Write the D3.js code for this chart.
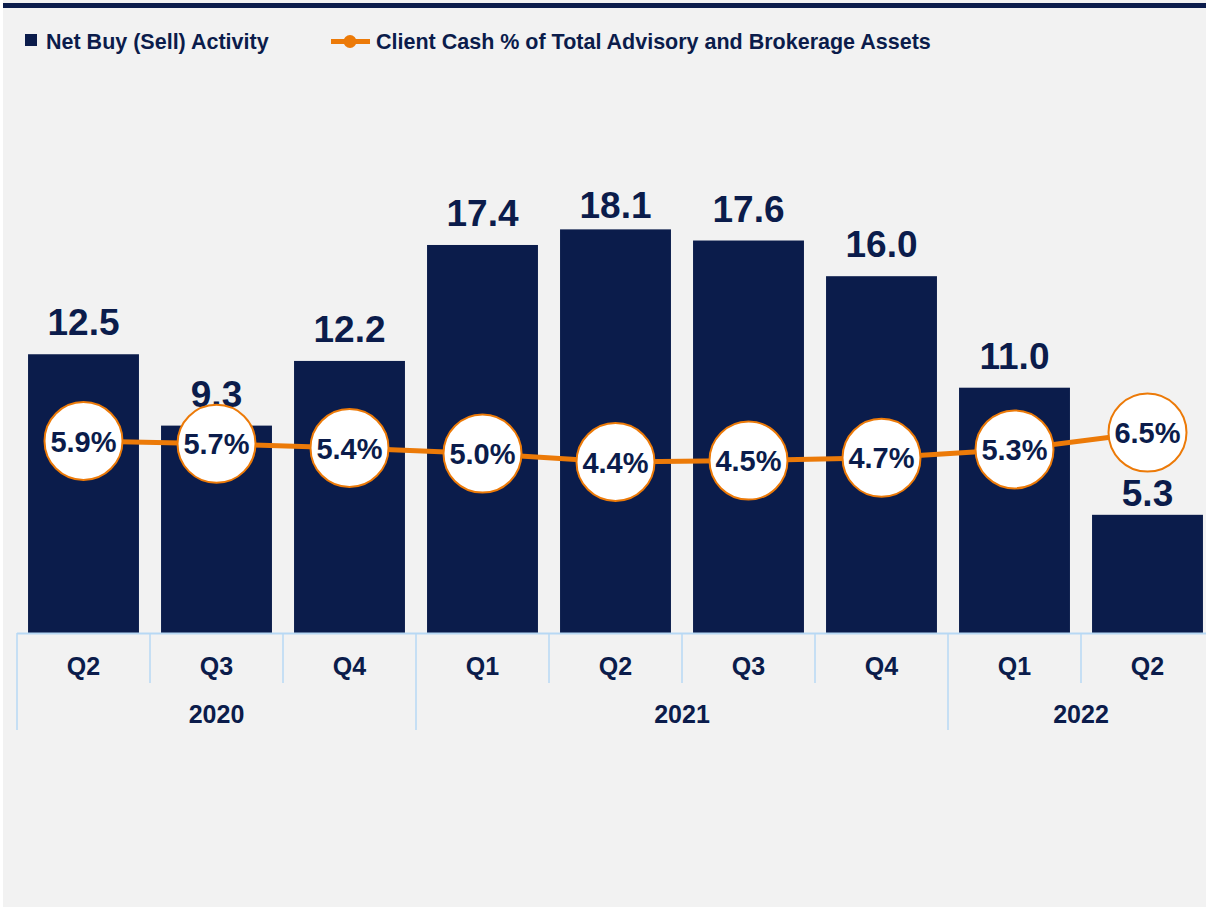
<!DOCTYPE html>
<html><head><meta charset="utf-8">
<script src="https://cdn.jsdelivr.net/npm/d3@7"></script>
<style>
html,body{margin:0;padding:0;background:#fff;}
text{font-family:"Liberation Sans",Arial,sans-serif;font-weight:bold;}
</style></head>
<body><svg id="c" width="1206" height="909"></svg>
<script>
const quarters = ["Q2","Q3","Q4","Q1","Q2","Q3","Q4","Q1","Q2"];
const years = ["2020","2020","2020","2021","2021","2021","2021","2022","2022"];
const netBuy = [12.5, 9.3, 12.2, 17.4, 18.1, 17.6, 16.0, 11.0, 5.3];
const cashPct = [5.9, 5.7, 5.4, 5.0, 4.4, 4.5, 4.7, 5.3, 6.5];
const legendLabels = ["Net Buy (Sell) Activity", "Client Cash % of Total Advisory and Brokerage Assets"];

const NAVY = "#0b1c4b", ORANGE = "#ec7a08", AXIS = "#b7d8f4";
const svg = d3.select("#c");
svg.append("rect").attr("x",3).attr("y",0).attr("width",1203).attr("height",907).attr("fill","#f2f2f2");
svg.append("rect").attr("x",3).attr("y",3).attr("width",1203).attr("height",5).attr("fill",NAVY);

const idx = d3.range(netBuy.length);
const x = d3.scaleBand().domain(idx).range([17, 17 + 133*netBuy.length]).paddingInner(0.166).paddingOuter(0.083);
const y = d3.scaleLinear().domain([0, 20]).range([633, 187]);
const y2 = d3.scaleLinear().domain([4, 7]).range([467.6, 425.6]);
const step = x.step();
const cx = i => x(i) + x.bandwidth()/2;

// bars
svg.selectAll("rect.bar").data(netBuy).join("rect").attr("class","bar")
  .attr("x",(d,i)=>x(i)).attr("width",x.bandwidth())
  .attr("y",d=>y(d)).attr("height",d=>y(0)-y(d)).attr("fill",NAVY);

// bar labels
const R = 39;
svg.selectAll("text.bl").data(netBuy).join("text").attr("class","bl")
  .attr("x",(d,i)=>cx(i)).attr("text-anchor","middle").attr("font-size",37).attr("fill",NAVY)
  .attr("y",(d,i)=>{
    let b = Math.max(y(d) - 19, 218);
    if (y(d) > y2(cashPct[i])) b = y2(cashPct[i]) + R + 8 + 26;
    return b;
  }).text(d=>d.toFixed(1));

// axis
const axisG = svg.append("g");
axisG.append("line").attr("x1",17).attr("x2",1206).attr("y1",633.5).attr("y2",633.5).attr("stroke",AXIS).attr("stroke-width",2);
idx.forEach(i=>{
  const xs = 17 + step*i;
  const yearStart = i===0 || years[i]!==years[i-1];
  axisG.append("line").attr("x1",xs).attr("x2",xs).attr("y1",633).attr("y2",yearStart?730:683).attr("stroke",AXIS).attr("stroke-width",1.5);
});
svg.selectAll("text.q").data(quarters).join("text").attr("class","q")
  .attr("x",(d,i)=>cx(i)).attr("y",675).attr("text-anchor","middle").attr("font-size",25).attr("fill",NAVY).text(d=>d);
const yearGroups = d3.groups(idx, i=>years[i]);
yearGroups.forEach(([yr, is])=>{
  const x0 = 17 + step*is[0], x1 = 17 + step*(is[is.length-1]+1);
  svg.append("text").attr("x",(x0+x1)/2).attr("y",723).attr("text-anchor","middle").attr("font-size",25).attr("fill",NAVY).text(yr);
});

// line
const line = d3.line().x((d,i)=>cx(i)).y(d=>y2(d));
svg.append("path").datum(cashPct).attr("d",line).attr("fill","none").attr("stroke",ORANGE).attr("stroke-width",5);
svg.selectAll("circle.pt").data(cashPct).join("circle").attr("class","pt")
  .attr("cx",(d,i)=>cx(i)).attr("cy",d=>y2(d)).attr("r",R).attr("fill","#fff").attr("stroke",ORANGE).attr("stroke-width",2);
svg.selectAll("text.pl").data(cashPct).join("text").attr("class","pl")
  .attr("x",(d,i)=>cx(i)).attr("y",d=>y2(d)+10.5).attr("text-anchor","middle").attr("font-size",29).attr("fill",NAVY)
  .text(d=>d.toFixed(1)+"%");

// legend
const lg = svg.append("g");
lg.append("rect").attr("x",25).attr("y",34).attr("width",12).attr("height",12).attr("fill",NAVY);
lg.append("text").attr("x",46).attr("y",49).attr("font-size",21.5).attr("fill",NAVY).text(legendLabels[0]);
lg.append("line").attr("x1",331).attr("x2",370).attr("y1",41.5).attr("y2",41.5).attr("stroke",ORANGE).attr("stroke-width",5);
lg.append("circle").attr("cx",350).attr("cy",41.5).attr("r",6.5).attr("fill",ORANGE);
lg.append("text").attr("x",376).attr("y",49).attr("font-size",21.5).attr("fill",NAVY).text(legendLabels[1]);
</script></body></html>
